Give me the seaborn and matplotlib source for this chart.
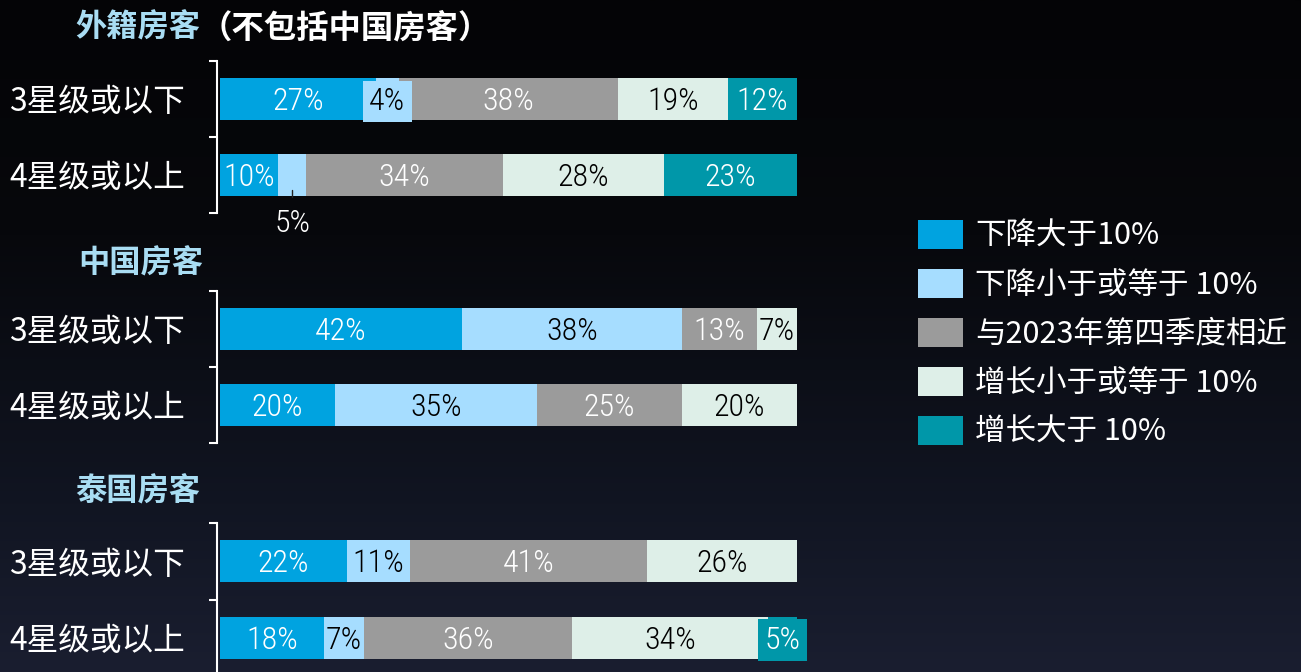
import numpy as np
import pandas as pd
import matplotlib
matplotlib.use("Agg")
import matplotlib.pyplot as plt
from matplotlib import font_manager as fm
from matplotlib.colors import LinearSegmentedColormap
import seaborn as sns

# ---------------- data ----------------
groups = ["外籍房客", "中国房客", "泰国房客"]
group_suffix = ["（不包括中国房客）", "", ""]
rows = ["3星级或以下", "4星级或以上"]
categories = ["下降大于10%", "下降小于或等于 10%", "与2023年第四季度相近",
              "增长小于或等于 10%", "增长大于 10%"]
foreign_3 = [27, 4, 38, 19, 12]
foreign_4 = [10, 5, 34, 28, 23]
china_3 = [42, 38, 13, 7, 0]
china_4 = [20, 35, 25, 20, 0]
thai_3 = [22, 11, 41, 26, 0]
thai_4 = [18, 7, 36, 34, 5]
values = {"外籍房客": [foreign_3, foreign_4],
          "中国房客": [china_3, china_4],
          "泰国房客": [thai_3, thai_4]}
# label drawn below the bar (group, row, category index)
outside_labels = [("外籍房客", "4星级或以上", 1)]

colors = ["#00A3E0", "#A6DDFF", "#9B9B9B", "#DEEFE8", "#0097A9"]
text_colors = ["white", "black", "white", "black", "white"]
title_color = "#A9DDF3"

records = []
for g in groups:
    for r, vals in zip(rows, values[g]):
        cum = 0
        for k, v in enumerate(vals):
            records.append(dict(group=g, row=r, ci=k, category=categories[k],
                                value=v, start=cum, end=cum + v))
            cum += v
df = pd.DataFrame(records)

# ---------------- style ----------------
sns.set_style("dark")
cjk = ["Noto Sans CJK SC", "DejaVu Sans"]
plt.rcParams["font.family"] = cjk
avail = {f.name for f in fm.fontManager.ttflist}
num_font = next((f for f in ["Liberation Sans Narrow", "Roboto Condensed",
                             "Open Sans Condensed"] if f in avail), None)
if num_font:
    num_fp = dict(family=[num_font, "DejaVu Sans"], fontweight="light")
else:
    num_fp = dict(family=["DejaVu Sans"], stretch="condensed")
NUM_SIZE = 23

W, H = 1301, 672
fig = plt.figure(figsize=(W / 100, H / 100), dpi=100)

# background gradient
bg = fig.add_axes([0, 0, 1, 1], zorder=-5)
cmap = LinearSegmentedColormap.from_list(
    "bg", [(0, "#040406"), (0.35, "#07080c"), (0.75, "#111522"), (1.0, "#1a1e30")])
grad = np.linspace(0, 1, 256).reshape(-1, 1)
bg.imshow(grad, aspect="auto", cmap=cmap, extent=[0, 1, 0, 1], origin="upper")
bg.set_axis_off()


def fx(px):
    return px / W


def fy(py):
    return 1 - py / H


axes_px = [(61, 213), (291, 443), (523, 676)]
left_px, right_px = 217, 797
title_y = [28, 263, 491]
title_x = [75, 78, 75]

handles = {}
for gi, g in enumerate(groups):
    top, bot = axes_px[gi]
    ax = fig.add_axes([fx(left_px), fy(bot), fx(right_px - left_px), (bot - top) / H])
    ax.set_facecolor("none")
    sub = df[df["group"] == g]
    for k in reversed(range(len(categories))):
        d = sub[sub["ci"] == k]
        sns.barplot(data=d, x="end", y="row", order=rows, orient="h",
                    color=colors[k], saturation=1, width=0.55, ax=ax,
                    linewidth=0, label=categories[k])
    ax.set_xlim(-0.5, 100)
    ax.set_ylim(1.5, -0.5)
    ax.set_xlabel("")
    ax.set_ylabel("")
    ax.set_xticks([])
    for s in ["top", "right", "bottom"]:
        ax.spines[s].set_visible(False)
    ax.spines["left"].set_visible(True)
    ax.spines["left"].set_color("white")
    ax.spines["left"].set_linewidth(1.5)
    ax.set_yticks([-0.5, 0.5, 1.5], minor=True)
    ax.tick_params(axis="y", which="minor", length=6, width=1.5, color="white",
                   direction="out", left=True)
    ax.tick_params(axis="y", which="major", length=0, pad=23,
                   labelsize=22.8, labelcolor="white")
    for lab in ax.get_yticklabels():
        lab.set_fontfamily(cjk)
        lab.set_fontweight("light")
    if gi == 0:
        hs, ls = ax.get_legend_handles_labels()
        handles = dict(zip(ls, hs))
    if ax.get_legend():
        ax.get_legend().remove()

    # value labels
    for _, rec in sub.iterrows():
        v = rec["value"]
        k = rec["ci"]
        if v <= 0:
            continue
        yi = rows.index(rec["row"])
        xc = rec["start"] + v / 2
        txt = f"{v}%"
        if (g, rec["row"], k) in outside_labels:
            ax.plot([xc, xc], [yi + 0.2, yi + 0.29], color="#222222", lw=1,
                    clip_on=False)
            ax.annotate(txt, (xc, yi + 0.6), xytext=(0, -8), textcoords="offset points",
                        ha="center", va="baseline", color="white",
                        fontsize=NUM_SIZE, annotation_clip=False, **num_fp)
            continue
        kw = {}
        if v <= 5:
            kw["bbox"] = dict(boxstyle="square,pad=0.2", fc=colors[k], ec="none")
        ax.annotate(txt, (xc, yi), xytext=(0, -8), textcoords="offset points",
                    ha="center", va="baseline", color=text_colors[k],
                    fontsize=NUM_SIZE, annotation_clip=False, **num_fp, **kw)

    # group title
    t = fig.text(fx(title_x[gi]), fy(title_y[gi]), g, color=title_color,
                 fontsize=22.5, fontweight="bold", va="center", ha="left")
    if group_suffix[gi]:
        fig.add_artist(matplotlib.text.Annotation(
            group_suffix[gi], xy=(1, 0.5), xycoords=t, va="center", ha="left",
            color="white", fontsize=23.3, fontweight="bold", annotation_clip=False))

leg_handles = [handles[c] for c in categories]
leg = fig.legend(leg_handles, categories, loc="upper left",
                 bbox_to_anchor=(fx(918), fy(220)), frameon=False, fontsize=22,
                 labelcolor="white", handlelength=1.48, handleheight=1.08,
                 handletextpad=0.4, labelspacing=0.56, borderpad=0, borderaxespad=0)
for tx in leg.get_texts():
    tx.set_fontweight("light")

fig.savefig("out.png", dpi=100, facecolor="#040406")
